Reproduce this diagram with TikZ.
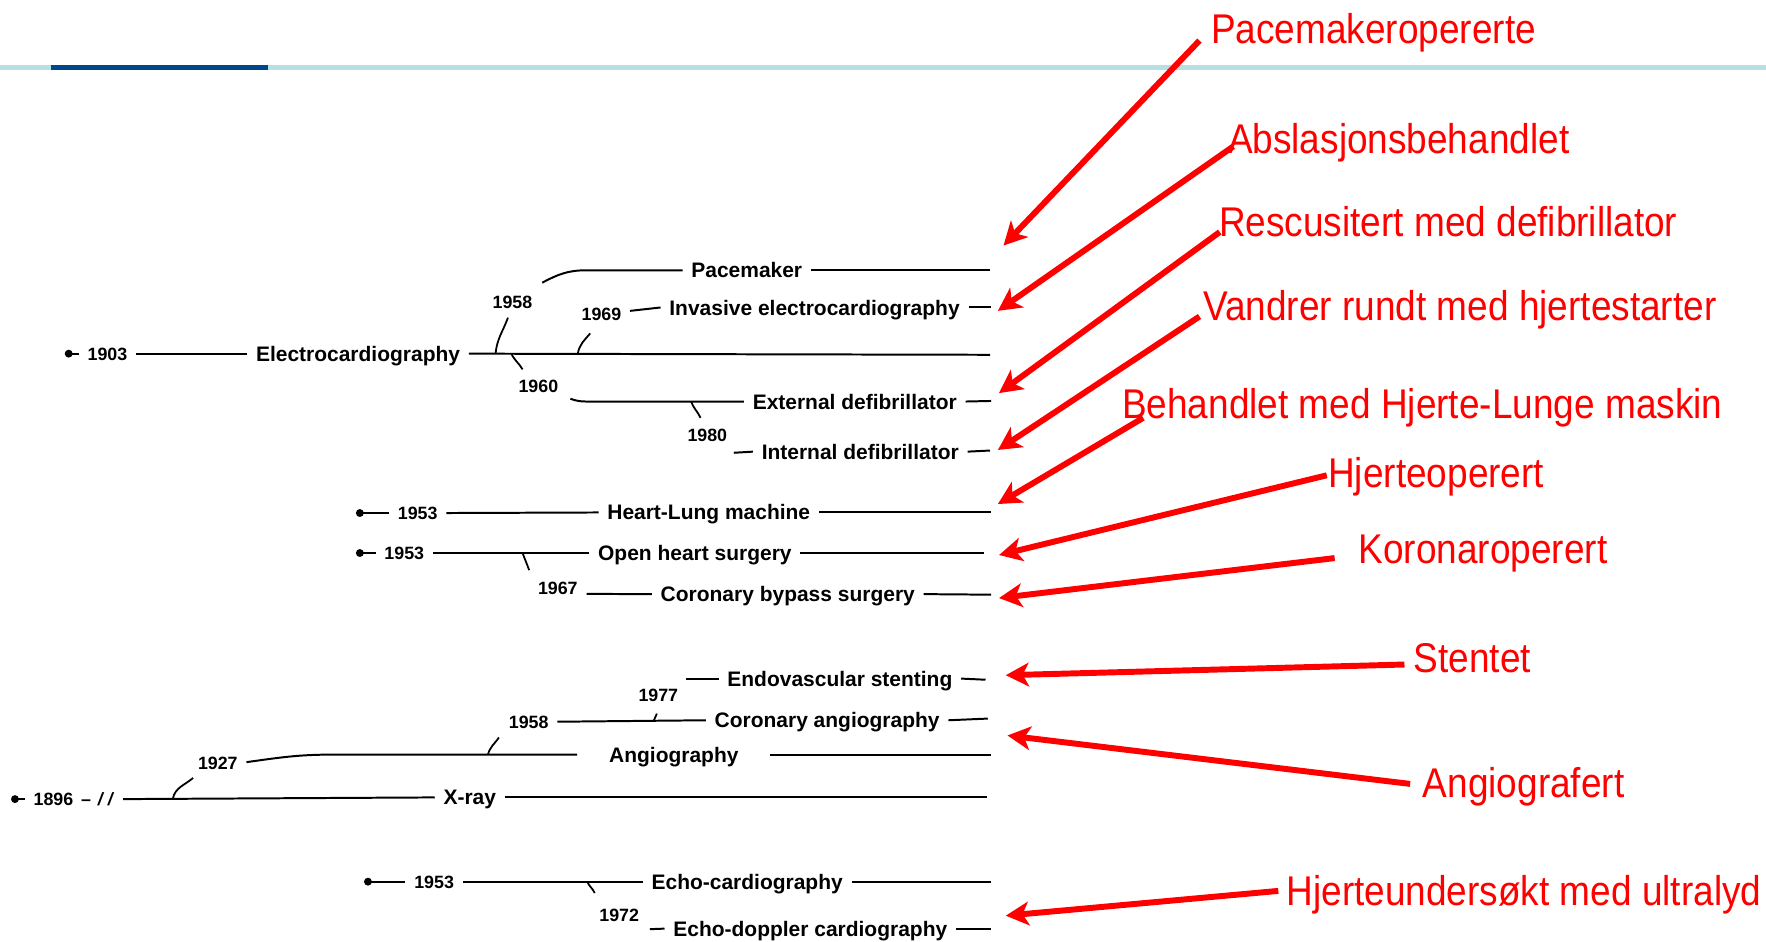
\documentclass[tikz,border=0pt]{standalone}
\usepackage{fontspec}
\setmainfont{Liberation Sans}
\newfontfamily\notefont[FakeStretch=0.89]{Liberation Sans}
\usepackage{xcolor}
\usetikzlibrary{arrows.meta,positioning}
\definecolor{notered}{RGB}{255,0,0}
\definecolor{rulecyan}{RGB}{183,224,229}
\definecolor{ruleblue}{RGB}{0,72,140}
\tikzset{
  evt/.style={anchor=west, font=\bfseries\fontsize{10.6}{12}\selectfont, inner xsep=4.27pt, inner ysep=0pt, text height=7.6pt, text depth=0pt},
  yr/.style={font=\bfseries\fontsize{9}{10}\selectfont, inner xsep=4.27pt, inner ysep=0pt, text height=6.45pt, text depth=0pt},
  note/.style={anchor=west, font=\notefont\fontsize{21}{24}\selectfont, text=notered, inner sep=0pt, text height=15pt, text depth=0pt},
  startdot/.style={circle, fill=black, inner sep=0pt, minimum size=4pt},
  tline/.style={line width=1pt, black},
  branch/.style={line width=0.9pt, black},
  headrule/.style={line width=0.1cm},
  callout/.style={notered, line width=3pt, -{Stealth[length=4.1mm,width=4.2mm,inset=1.1mm]}}
}

\begin{document}
\begin{tikzpicture}[x=0.02cm,y=-0.02cm]
  \useasboundingbox (0,0) rectangle (1568,836);
  % header rule
  \draw[headrule,rulecyan] (0,60) -- (1568,60);
  \draw[headrule,ruleblue] (45,60) -- (238,60);

  % electrocardiography
  \node[startdot] (dEcg) at (61,314) {};
  \node[yr,anchor=west] (y1903) at (70,314) {1903};
  \node[evt] (ecg) at (219.5,314) {Electrocardiography};
  \coordinate (ecgEnd) at (879,315);
  \draw[tline] (dEcg.center) -- (y1903.west);
  \draw[tline] (y1903.east) -- (ecg.west);
  \draw[tline] (ecg.east) -- (ecgEnd);
  \coordinate (fork58) at (440,314);
  \coordinate (fork60) at (454,314);
  \coordinate (fork69) at (513,314);

  % pacemaker
  \node[yr] (y1958p) at (455,268) {1958};
  \node[evt] (pace) at (606,240) {Pacemaker};
  \coordinate (paceEnd) at (879,240);
  \draw[branch] (fork58) to[out=85,in=-110] ([shift={(-4,8)}]y1958p.south);
  \draw[tline] ([shift={(1,-11)}]y1958p.north east) to[out=28,in=180] ([shift={(-86,0)}]pace.west) -- (pace.west);
  \draw[tline] (pace.east) -- (paceEnd);

  % invasive ecg
  \node[yr] (y1969) at (534,279) {1969};
  \node[evt] (inv) at (586.5,273) {Invasive electrocardiography};
  \coordinate (invEnd) at (880,273);
  \draw[branch] (fork69) to[out=80,in=-130] ([shift={(-10,11)}]y1969.south);
  \draw[tline] ([shift={(0,-3)}]y1969.east) -- (inv.west);
  \draw[tline] (inv.east) -- (invEnd);

  % defibrillators
  \node[yr] (y1960) at (478,343) {1960};
  \node[evt] (ext) at (660.5,356.5) {External defibrillator};
  \coordinate (extEnd) at (880,356);
  \draw[branch] (fork60) to[out=-65,in=120] ([shift={(-14,-9)}]y1960.north);
  \draw[tline] ([shift={(3,11)}]y1960.east) to[out=-20,in=180] ([shift={(-140,0)}]ext.west) -- (ext.west);
  \draw[tline] (ext.east) -- (extEnd);
  \coordinate (fork80) at (613.6,356.5);
  \node[yr] (y1980) at (628,386) {1980};
  \node[evt] (int) at (668.5,401) {Internal defibrillator};
  \coordinate (intStart) at (651.5,402);
  \coordinate (intEnd) at (879,400);
  \draw[branch] (fork80) to[out=-70,in=115] ([shift={(-6,-9)}]y1980.north);
  \draw[tline] (intStart) -- (int.west);
  \draw[tline] (int.east) -- (intEnd);

  % heart-lung machine
  \node[startdot] (dHlm) at (319.5,455.5) {};
  \node[yr,anchor=west] (y1953h) at (345.4,455.5) {1953};
  \node[evt] (hlm) at (531.4,455) {Heart-Lung machine};
  \coordinate (hlmEnd) at (880,455);
  \draw[tline] (dHlm.center) -- (y1953h.west);
  \draw[tline] (y1953h.east) -- (hlm.west);
  \draw[tline] (hlm.east) -- (hlmEnd);

  % open heart and bypass
  \node[startdot] (dOhs) at (319.5,491) {};
  \node[yr,anchor=west] (y1953o) at (333.5,491) {1953};
  \node[evt] (ohs) at (523.2,491) {Open heart surgery};
  \coordinate (ohsEnd) at (874,491);
  \draw[tline] (dOhs.center) -- (y1953o.west);
  \draw[tline] (y1953o.east) -- (ohs.west);
  \draw[tline] (ohs.east) -- (ohsEnd);
  \coordinate (fork67) at (464,491);
  \node[yr] (y1967) at (495.3,522.3) {1967};
  \node[evt] (cbs) at (578.8,527.5) {Coronary bypass surgery};
  \coordinate (cbsEnd) at (880,528);
  \draw[branch] (fork67) to[out=-70,in=110] ([shift={(0,-10)}]y1967.north west);
  \draw[tline] ([shift={(0,5)}]y1967.east) -- (cbs.west);
  \draw[tline] (cbs.east) -- (cbsEnd);

  % x-ray family
  \node[startdot] (dXr) at (13.3,709.5) {};
  \node[yr,anchor=west] (y1896) at (22,709.5) {1896\hspace{4pt}–\hspace{3.5pt}\textit{/\hspace{2.5pt}/}};
  \node[evt] (xray) at (386,708) {X-ray};
  \coordinate (xrayEnd) at (876,708);
  \draw[tline] (dXr.center) -- (y1896.west);
  \draw[tline] (y1896.east) -- (xray.west);
  \draw[tline] (xray.east) -- (xrayEnd);
  \coordinate (fork27) at (153.5,709);
  \node[yr] (y1927) at (193.4,677.7) {1927};
  \node[evt,inner xsep=0.56cm] (ang) at (512.5,670) {Angiography};
  \coordinate (angEnd) at (880,670);
  \draw[branch] (fork27) to[out=78,in=-140] ([shift={(3.5,7)}]y1927.south west);
  \draw[tline] ([shift={(0,-1)}]y1927.east) to[out=8,in=180] ([shift={(-218,0)}]ang.west) -- (ang.west);
  \draw[tline] (ang.east) -- (angEnd);
  \coordinate (forkA58) at (433.2,670);
  \node[yr] (y1958a) at (469.4,640.8) {1958};
  \node[evt] (ca) at (626.7,639.5) {Coronary angiography};
  \coordinate (caEnd) at (877,638);
  \draw[branch] (forkA58) to[out=75,in=-125] ([shift={(-1,8)}]y1958a.south west);
  \draw[tline] (y1958a.east) -- (ca.west);
  \draw[tline] (ca.east) -- (caEnd);
  \coordinate (fork77) at (580.4,640);
  \node[yr] (y1977) at (584.5,617.1) {1977};
  \node[evt] (es) at (638,602.5) {Endovascular stenting};
  \coordinate (esStart) at (609,602.5);
  \coordinate (esEnd) at (875,603.5);
  \draw[branch] (fork77) to[out=80,in=-100] ([shift={(-1.3,10.5)}]y1977.south);
  \draw[tline] (esStart) -- (es.west);
  \draw[tline] (es.east) -- (esEnd);

  % echo
  \node[startdot] (dEcho) at (326.7,782.8) {};
  \node[yr,anchor=west] (y1953e) at (360,782.8) {1953};
  \node[evt] (echo) at (570.7,782.8) {Echo-cardiography};
  \coordinate (echoEnd) at (880,782.8);
  \draw[tline] (dEcho.center) -- (y1953e.west);
  \draw[tline] (y1953e.east) -- (echo.west);
  \draw[tline] (echo.east) -- (echoEnd);
  \coordinate (fork72) at (521.3,782.8);
  \node[yr] (y1972) at (549.8,812.4) {1972};
  \node[evt] (edc) at (590,824.5) {Echo-doppler cardiography};
  \coordinate (edcStart) at (577,825);
  \coordinate (edcEnd) at (880,824.5);
  \draw[branch] (fork72) to[out=-65,in=115] ([shift={(3.7,-13.5)}]y1972.north west);
  \draw[tline] (edcStart) -- (edc.west);
  \draw[tline] (edc.east) -- (edcEnd);

  % patient groups
  \node[note] (nPace) at (1075,25) {Pacemakeropererte};
  \node[note] (nAbl) at (1090,123) {Abslasjonsbehandlet};
  \node[note] (nResc) at (1082,197) {Rescusitert med defibrillator};
  \node[note] (nVand) at (1068,271) {Vandrer rundt med hjertestarter};
  \node[note] (nHlm) at (996,358) {Behandlet med Hjerte-Lunge maskin};
  \node[note] (nHop) at (1179,420) {Hjerteoperert};
  \node[note] (nKor) at (1206,487) {Koronaroperert};
  \node[note] (nStent) at (1255,584) {Stentet};
  \node[note] (nAngio) at (1263,695) {Angiografert};
  \node[note] (nEcho) at (1142,791) {Hjerteundersøkt med ultralyd};
  \coordinate (tPace) at (891,218);
  \coordinate (tAbl) at (886,276);
  \coordinate (tResc) at (887,349);
  \coordinate (tVand) at (886,399.5);
  \coordinate (tHlm) at (886,447.5);
  \coordinate (tHop) at (887,492.8);
  \coordinate (tKor) at (887,531);
  \coordinate (tStent) at (893,599.5);
  \coordinate (tAngio) at (894.5,653);
  \coordinate (tEcho) at (893,813);
  \draw[callout] ([shift={(-10,11)}]nPace.west) -- (tPace);
  \draw[callout] ([shift={(5,7)}]nAbl.west) -- (tAbl);
  \draw[callout] ([shift={(1,9)}]nResc.west) -- (tResc);
  \draw[callout] ([shift={(-3,10)}]nVand.west) -- (tVand);
  \draw[callout] ([shift={(19,13)}]nHlm.west) -- (tHlm);
  \draw[callout] ([shift={(-1,2)}]nHop.west) -- (tHop);
  \draw[callout] ([shift={(-21,8.5)}]nKor.west) -- (tKor);
  \draw[callout] ([shift={(-8,6)}]nStent.west) -- (tStent);
  \draw[callout] ([shift={(-11,1)}]nAngio.west) -- (tAngio);
  \draw[callout] ([shift={(-7,0)}]nEcho.west) -- (tEcho);
\end{tikzpicture}
\end{document}
